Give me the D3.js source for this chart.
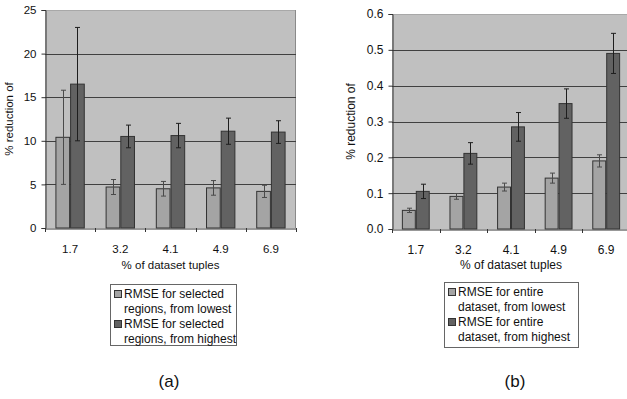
<!DOCTYPE html>
<html>
<head>
<meta charset="utf-8">
<script src="https://cdn.jsdelivr.net/npm/d3@7/dist/d3.min.js"></script>
<style>
html,body{margin:0;padding:0;background:#fff;}
svg{display:block;font-family:"Liberation Sans",Arial,sans-serif;}
</style>
</head>
<body>
<svg id="chart" width="627" height="399"></svg>
<script>
const categories = ["1.7","3.2","4.1","4.9","6.9"];

// Chart (a)
const aLowest = [10.4, 4.7, 4.5, 4.6, 4.2];
const aLowestErr = [5.4, 0.86, 0.84, 0.84, 0.7];
const aHighest = [16.5, 10.5, 10.6, 11.1, 11.0];
const aHighestErr = [6.5, 1.3, 1.4, 1.5, 1.3];
const aTicks = [0, 5, 10, 15, 20, 25];
const aLegend = [["RMSE for selected", "regions, from lowest"], ["RMSE for selected", "regions, from highest"]];

// Chart (b)
const bLowest = [0.052, 0.091, 0.117, 0.142, 0.19];
const bLowestErr = [0.006, 0.008, 0.011, 0.014, 0.017];
const bHighest = [0.105, 0.211, 0.285, 0.350, 0.490];
const bHighestErr = [0.02, 0.03, 0.04, 0.041, 0.056];
const bTicks = [0, 0.1, 0.2, 0.3, 0.4, 0.5, 0.6];
const bLegend = [["RMSE for entire", "dataset, from lowest"], ["RMSE for entire", "dataset, from highest"]];

const yTitle = "% reduction of";
const xTitle = "% of dataset tuples";

const svg = d3.select("#chart");
const colLight = "#a4a4a4", colDark = "#626262", colBg = "#c0c0c0";

function panel(o) {
  const g = svg.append("g");
  const x = d3.scaleBand().domain(categories).range([o.x0, o.x1]);
  const y = d3.scaleLinear().domain([0, o.yMax]).range([o.y0, o.y1]);
  const sub = d3.scaleBand().domain([0, 1]).range([0, x.bandwidth() * 0.585]);
  const off = (x.bandwidth() - sub.range()[1]) / 2;

  // plot background
  g.append("rect").attr("x", o.x0).attr("y", o.y1).attr("width", o.x1 - o.x0).attr("height", o.y0 - o.y1)
    .attr("fill", colBg);
  // top & right border
  g.append("line").attr("x1", o.x0).attr("x2", o.x1).attr("y1", o.y1 + 0.5).attr("y2", o.y1 + 0.5)
    .attr("stroke", "#a8a8a8");
  g.append("line").attr("x1", o.x1 - 0.5).attr("x2", o.x1 - 0.5).attr("y1", o.y1).attr("y2", o.y0)
    .attr("stroke", "#8a8a8a");
  // gridlines
  g.selectAll(".grid").data(o.ticks.filter(t => t > 0 && t < o.yMax)).enter().append("line")
    .attr("x1", o.x0).attr("x2", o.x1)
    .attr("y1", d => Math.round(y(d)) + 0.5).attr("y2", d => Math.round(y(d)) + 0.5)
    .attr("stroke", "#404040").attr("stroke-width", 1);

  const series = [
    {vals: o.low, errs: o.lowErr, fill: colLight, ec: "#4a4a4a"},
    {vals: o.high, errs: o.highErr, fill: colDark, ec: "#1e1e1e"}
  ];
  series.forEach((s, si) => {
    const bx = c => x(c) + off + sub(si);
    g.selectAll(".bar" + si).data(categories).enter().append("rect")
      .attr("x", c => bx(c) + 0.5)
      .attr("y", (c, i) => y(s.vals[i]))
      .attr("width", sub.bandwidth() - 1)
      .attr("height", (c, i) => o.y0 - y(s.vals[i]))
      .attr("fill", s.fill).attr("stroke", "#333").attr("stroke-width", 1);
    categories.forEach((c, i) => {
      const cx = Math.round(bx(c) + sub.bandwidth() / 2) + 0.5;
      const hi = y(s.vals[i] + s.errs[i]), lo = y(s.vals[i] - s.errs[i]);
      g.append("line").attr("x1", cx).attr("x2", cx).attr("y1", hi).attr("y2", lo)
        .attr("stroke", s.ec).attr("stroke-width", 1);
      [hi, lo].forEach(yy => g.append("line").attr("x1", cx - 2.5).attr("x2", cx + 2.5)
        .attr("y1", yy).attr("y2", yy).attr("stroke", s.ec).attr("stroke-width", 1));
    });
  });

  // y axis
  const ya = g.append("g").attr("transform", `translate(${o.x0 + 0.5},0)`)
    .call(d3.axisLeft(y).tickValues(o.ticks).tickFormat(o.fmt).tickSizeOuter(0).tickSize(4).tickPadding(5));
  // x axis
  const xa = g.append("g").attr("transform", `translate(0,${o.y0 + 0.5})`)
    .call(d3.axisBottom(x).tickSize(0).tickPadding(16));
  // tick marks at band edges
  const edges = categories.map(c => x(c)).concat([o.x1]);
  g.selectAll(".xt").data(edges).enter().append("line")
    .attr("x1", d => Math.round(d) + 0.5).attr("x2", d => Math.round(d) + 0.5)
    .attr("y1", o.y0).attr("y2", o.y0 + 4).attr("stroke", "#333");
  [ya, xa].forEach(a => {
    a.selectAll("path,line").attr("stroke", "#333");
    a.selectAll("text").attr("fill", "#111").style("font-size", o.fs + "px").style("font-family", "Liberation Sans, Arial, sans-serif");
  });

  // titles
  g.append("text").attr("transform", `translate(${o.ytx},${(o.y0 + o.y1) / 2}) rotate(-90)`)
    .attr("text-anchor", "middle").style("font-size", o.fs + "px").attr("fill", "#111").text(yTitle);
  g.append("text").attr("x", (o.x0 + o.x1) / 2).attr("y", 269)
    .attr("text-anchor", "middle").style("font-size", o.fs + "px").attr("fill", "#111").text(xTitle);

  // legend
  const L = o.legend;
  g.append("rect").attr("x", L.x + 0.5).attr("y", L.y + 0.5).attr("width", L.w).attr("height", L.h)
    .attr("fill", "#fff").attr("stroke", "#666");
  o.legendText.forEach((lines, i) => {
    const by = L.y + 14 + i * 30;
    g.append("rect").attr("x", L.x + 4.5).attr("y", by - 7.5).attr("width", 7).attr("height", 7)
      .attr("fill", i ? colDark : colLight).attr("stroke", "#333");
    lines.forEach((t, j) => g.append("text").attr("x", L.x + 14).attr("y", by + j * 14.5)
      .style("font-size", "12px").attr("fill", "#111").text(t));
  });

  g.append("text").attr("x", o.labelX).attr("y", 387).attr("text-anchor", "middle")
    .style("font-size", "17px").attr("fill", "#111").text(o.label);
}

panel({x0: 45, x1: 296, y0: 228, y1: 10, yMax: 25, ticks: aTicks, fmt: d3.format("d"),
  low: aLowest, lowErr: aLowestErr, high: aHighest, highErr: aHighestErr,
  ytx: 13, fs: 11.5, legend: {x: 110, y: 284, w: 126, h: 61}, legendText: aLegend, label: "(a)", labelX: 169});
panel({x0: 392, x1: 630, y0: 229, y1: 14, yMax: 0.6, ticks: bTicks, fmt: d3.format(".1f"),
  low: bLowest, lowErr: bLowestErr, high: bHighest, highErr: bHighestErr,
  ytx: 355, fs: 12, legend: {x: 444, y: 282, w: 134, h: 65}, legendText: bLegend, label: "(b)", labelX: 515});
</script>
</body>
</html>
